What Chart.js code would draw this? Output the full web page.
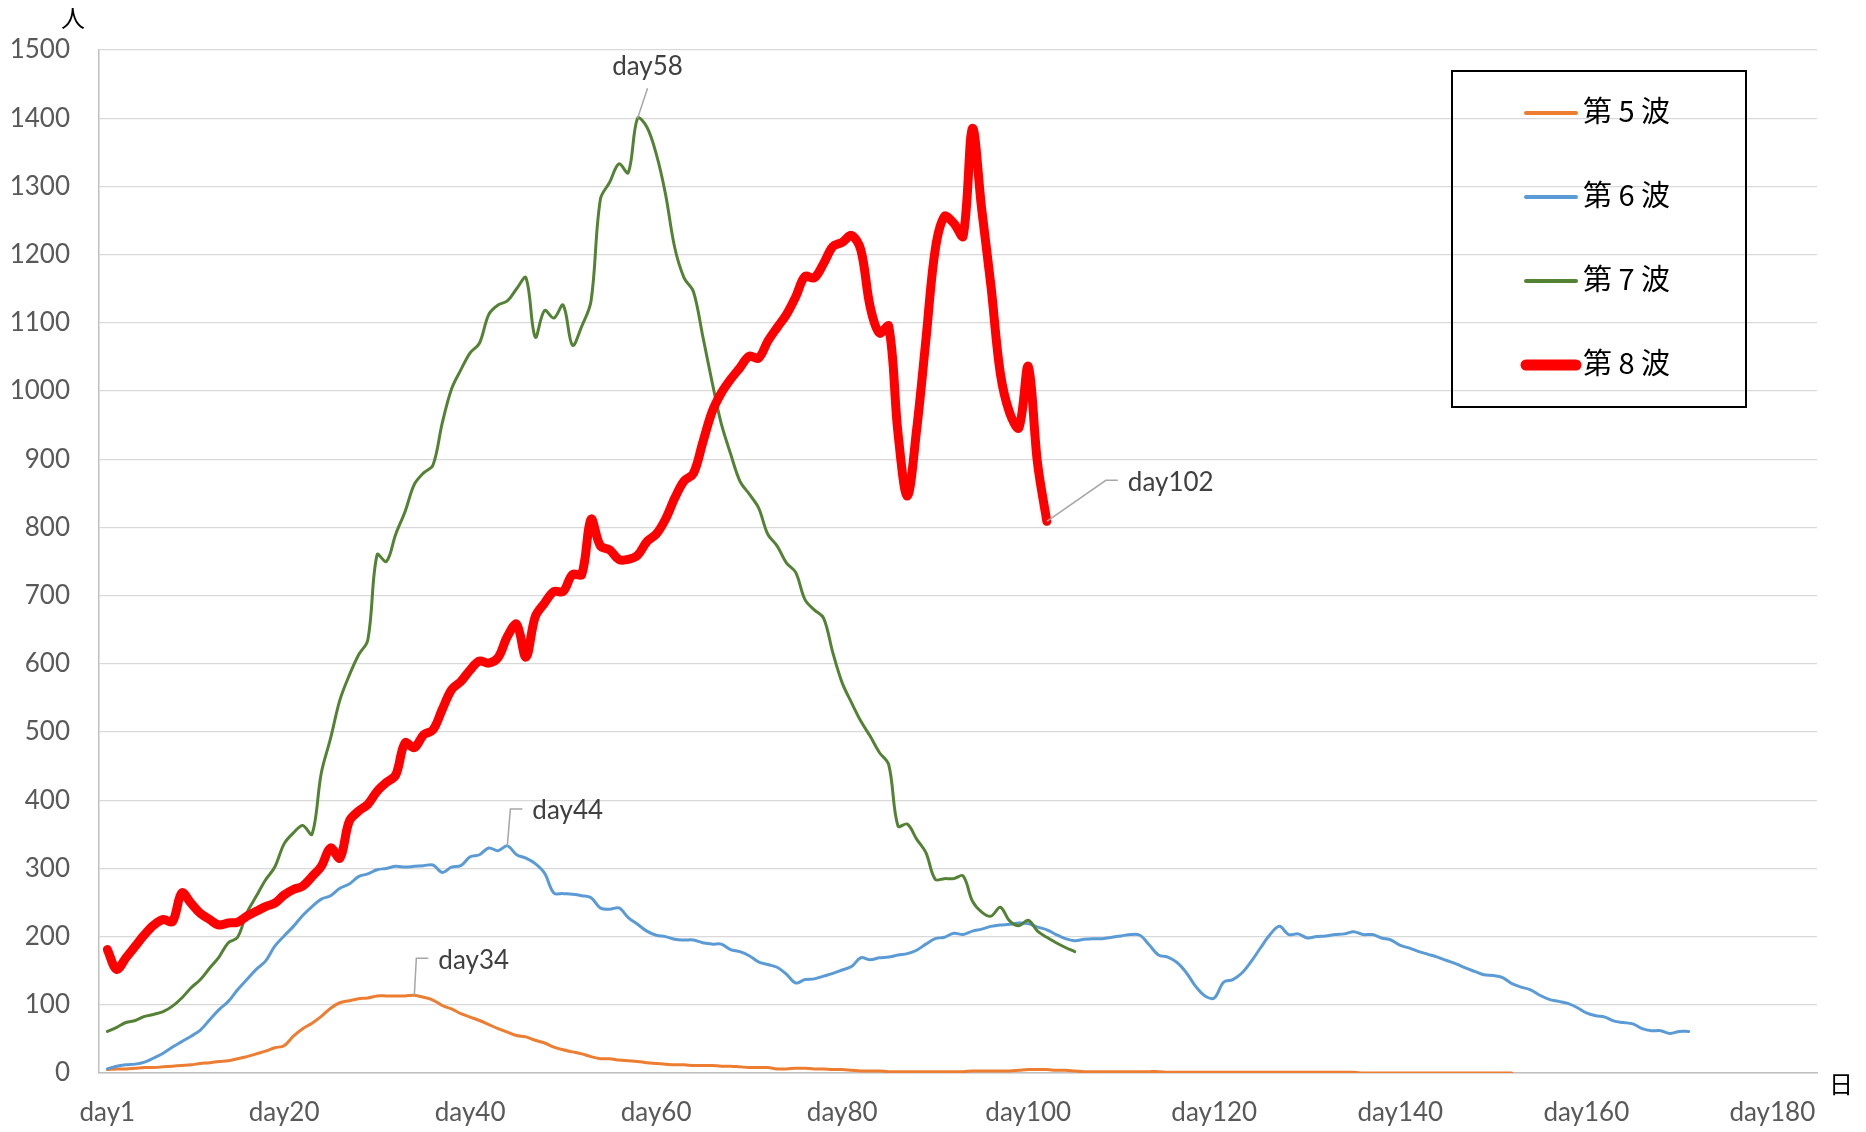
<!DOCTYPE html>
<html lang="ja">
<head>
<meta charset="utf-8">
<title>第5波〜第8波</title>
<script src="https://cdn.jsdelivr.net/npm/chart.js@4.4.1/dist/chart.umd.min.js"></script>
<style>
  html, body { margin: 0; padding: 0; background: #fff; }
  #wrap { width: 1866px; height: 1132px; position: relative; }
</style>
</head>
<body>
<div id="wrap"><canvas id="chart"></canvas></div>
<script>
// x axis: day number, labelled only on these days
const tickDays = [1, 20, 40, 60, 80, 100, 120, 140, 160, 180];
const yMax = 1500;
const yStep = 100;

const seriesLabels = ['第 5 波', '第 6 波', '第 7 波', '第 8 波'];

// 7-day values, one per day starting at day1
const wave5 = [
  5, 6, 6, 7, 8, 8, 9, 10, 11, 12,
  14, 15, 17, 18, 21, 24, 28, 32, 37, 40,
  54, 65, 73, 83, 95, 103, 106, 109, 110, 113,
  113, 113, 113, 114, 111, 107, 99, 94, 87, 82,
  77, 71, 65, 60, 55, 53, 48, 44, 38, 34,
  31, 28, 24, 21, 21, 19, 18, 17, 15, 14,
  13, 12, 12, 11, 11, 11, 10, 10, 9, 8,
  8, 8, 6, 6, 7, 7, 6, 6, 5, 5,
  4, 3, 3, 3, 2, 2, 2, 2, 2, 2,
  2, 2, 2, 3, 3, 3, 3, 3, 4, 5,
  5, 5, 4, 4, 3, 2, 2, 2, 2, 2,
  2, 2, 2, 2, 1, 1, 1, 1, 1, 1,
  1, 1, 1, 1, 1, 1, 1, 1, 1, 1,
  1, 1, 1, 1, 1, 0, 0, 0, 0, 0,
  0, 0, 0, 0, 0, 0, 0, 0, 0, 0,
  0, 0
];

const wave6 = [
  6, 10, 12, 13, 16, 22, 29, 38, 46, 54,
  63, 78, 93, 105, 122, 137, 152, 164, 186, 201,
  215, 231, 244, 255, 260, 271, 277, 288, 292, 298,
  300, 303, 302, 303, 304, 305, 294, 302, 304, 317,
  320, 330, 326, 333, 320, 315, 307, 293, 264, 263,
  262, 260, 257, 242, 240, 242, 228, 218, 208, 202,
  200, 196, 195, 195, 191, 189, 189, 181, 178, 172,
  163, 159, 155, 145, 132, 137, 138, 142, 146, 151,
  156, 169, 166, 169, 170, 173, 175, 180, 189, 197,
  199, 205, 203, 208, 211, 215, 217, 218, 220, 219,
  214, 210, 203, 197, 194, 196, 197, 197, 199, 201,
  203, 202, 188, 173, 170, 162, 147, 127, 113, 110,
  133, 137, 147, 164, 184, 203, 215, 203, 204, 198,
  200, 201, 203, 204, 207, 203, 203, 198, 195, 187,
  183, 178, 174, 170, 165, 160, 154, 149, 144, 143,
  140, 131, 126, 122, 114, 108, 105, 102, 96, 88,
  84, 82, 76, 74, 72, 65, 62, 62, 58, 61,
  61
];

const wave7 = [
  61, 67, 74, 77, 83, 86, 90, 98, 110, 125,
  137, 154, 170, 191, 199, 235, 259, 283, 302, 336,
  352, 363, 350, 440, 491, 547, 583, 613, 635, 760,
  750, 790, 823, 863, 880, 891, 953, 1003, 1031, 1056,
  1070, 1112, 1126, 1132, 1150, 1166, 1079, 1118, 1107, 1126,
  1067, 1095, 1132, 1281, 1306, 1333, 1320, 1400, 1387, 1348,
  1289, 1210, 1166, 1146, 1081, 1014, 952, 908, 868, 849,
  829, 790, 773, 748, 734, 694, 679, 667, 616, 572,
  543, 516, 494, 470, 452, 362, 365, 343, 323, 284,
  285, 285, 289, 252, 236, 230, 243, 223, 216, 224,
  208, 199, 191, 184, 178
];

const wave8 = [
  181, 152, 169, 186, 203, 217, 225, 222, 264, 249,
  234, 225, 217, 220, 221, 230, 237, 244, 249, 261,
  269, 274, 288, 303, 330, 315, 369, 384, 394, 413,
  426, 437, 484, 477, 496, 503, 533, 562, 574, 591,
  604, 601, 609, 640, 658, 610, 669, 689, 706, 706,
  731, 731, 812, 773, 767, 753, 753, 759, 779, 790,
  812, 843, 868, 879, 924, 969, 997, 1017, 1034, 1051,
  1048, 1073, 1093, 1112, 1138, 1168, 1166, 1187, 1212, 1218,
  1228, 1207, 1124, 1085, 1095, 938, 846, 943, 1075, 1207,
  1256, 1246, 1227, 1385, 1266, 1153, 1026, 968, 946, 1036,
  894, 809
];

const seriesValues = [wave5, wave6, wave7, wave8];
const seriesColors = ['#ED7D31', '#5B9BD5', '#548235', '#FF0000'];
const seriesWidths = [3, 3, 3, 9];

// peaks / end point that carry a label
const calloutSeries = [2, 1, 0, 3];
const calloutDays = [58, 44, 34, 102];

const toPoints = arr => arr.map((v, i) => ({ x: i + 1, y: v }));

const tickFont = { family: 'Lato', size: 26 };

// label leader shapes, offsets in px from the marked point
const calloutShapes = {
  58: { straight: true, ex: 10, ey: -30, tx: 10, ty: -52 },
  44: { ex: 3, ey: -37 },
  34: { ex: 2, ey: -37 },
  102: { ex: 59, ey: -41 }
};

const calloutPlugin = {
  id: 'callouts',
  afterDatasetsDraw(chart) {
    const { ctx } = chart;
    const x = chart.scales.x;
    const y = chart.scales.y;
    ctx.save();
    ctx.font = '26px Lato';
    ctx.fillStyle = '#404040';
    ctx.strokeStyle = '#a6a6a6';
    ctx.lineWidth = 1.5;
    ctx.textBaseline = 'middle';
    calloutDays.forEach((day, i) => {
      const v = seriesValues[calloutSeries[i]][day - 1];
      const px = x.getPixelForValue(day);
      const py = y.getPixelForValue(v);
      const s = calloutShapes[day];
      ctx.beginPath();
      ctx.moveTo(px, py);
      ctx.lineTo(px + s.ex, py + s.ey);
      if (s.straight) {
        ctx.stroke();
        ctx.textAlign = 'center';
        ctx.fillText('day' + day, px + s.tx, py + s.ty);
      } else {
        ctx.lineTo(px + s.ex + 12, py + s.ey);
        ctx.stroke();
        ctx.textAlign = 'left';
        ctx.fillText('day' + day, px + s.ex + 22, py + s.ey + 2);
      }
    });
    ctx.restore();
  }
};

const legendPlugin = {
  id: 'boxLegend',
  afterDraw(chart) {
    const { ctx } = chart;
    const box = { left: 1452, top: 71, width: 294, height: 336 };
    ctx.save();
    ctx.strokeStyle = '#000';
    ctx.lineWidth = 2;
    ctx.strokeRect(box.left, box.top, box.width, box.height);
    ctx.font = '29px "Noto Sans CJK JP"';
    ctx.fillStyle = '#000';
    ctx.textBaseline = 'middle';
    ctx.textAlign = 'left';
    ctx.lineCap = 'round';
    chart.data.datasets.forEach((ds, i) => {
      const yy = box.top + 42 + i * 84;
      ctx.beginPath();
      ctx.strokeStyle = ds.borderColor;
      ctx.lineWidth = ds.borderWidth > 5 ? 11 : 4;
      ctx.moveTo(box.left + 74, yy);
      ctx.lineTo(box.left + 124, yy);
      ctx.stroke();
      ctx.fillText(ds.label, box.left + 131, yy - 2);
    });
    ctx.restore();
  }
};

const unitPlugin = {
  id: 'units',
  afterDraw(chart) {
    const { ctx, chartArea } = chart;
    ctx.save();
    ctx.font = '24px "Noto Sans CJK JP"';
    ctx.fillStyle = '#000';
    ctx.textAlign = 'center';
    ctx.textBaseline = 'middle';
    ctx.fillText('人', 73, 18);
    ctx.fillText('日', chartArea.right + 24, chartArea.bottom + 11);
    ctx.restore();
  }
};

new Chart(document.getElementById('chart'), {
  type: 'line',
  data: {
    datasets: seriesValues.map((vals, i) => ({
      label: seriesLabels[i],
      data: toPoints(vals),
      borderColor: seriesColors[i],
      backgroundColor: seriesColors[i],
      borderWidth: seriesWidths[i],
      pointRadius: 0,
      tension: 0.35,
      fill: false,
      borderCapStyle: 'round',
      borderJoinStyle: 'round',
      order: 4 - i
    }))
  },
  options: {
    responsive: true,
    maintainAspectRatio: false,
    animation: false,
    layout: { padding: { top: 50, right: 49, left: 0, bottom: 0 } },
    plugins: {
      legend: { display: false },
      tooltip: { enabled: false }
    },
    scales: {
      x: {
        type: 'linear',
        min: 0.1,
        max: 184.8,
        grid: { display: false, drawTicks: false },
        border: { display: true, color: '#bfbfbf', width: 1.5 },
        afterBuildTicks: axis => { axis.ticks = tickDays.map(v => ({ value: v })); },
        afterFit: axis => { axis.height = 59; },
        ticks: {
          autoSkip: false,
          maxRotation: 0,
          padding: 24,
          color: '#595959',
          font: tickFont,
          callback: v => 'day' + v
        }
      },
      y: {
        min: 0,
        max: yMax,
        grid: { color: '#d9d9d9', lineWidth: 1.2, drawTicks: false },
        border: { display: true, color: '#bfbfbf', width: 1.5 },
        afterFit: axis => { axis.width = 99; },
        ticks: {
          stepSize: yStep,
          padding: 29,
          color: '#595959',
          font: tickFont,
          callback: v => String(v)
        }
      }
    }
  },
  plugins: [calloutPlugin, legendPlugin, unitPlugin]
});
</script>
</body>
</html>
